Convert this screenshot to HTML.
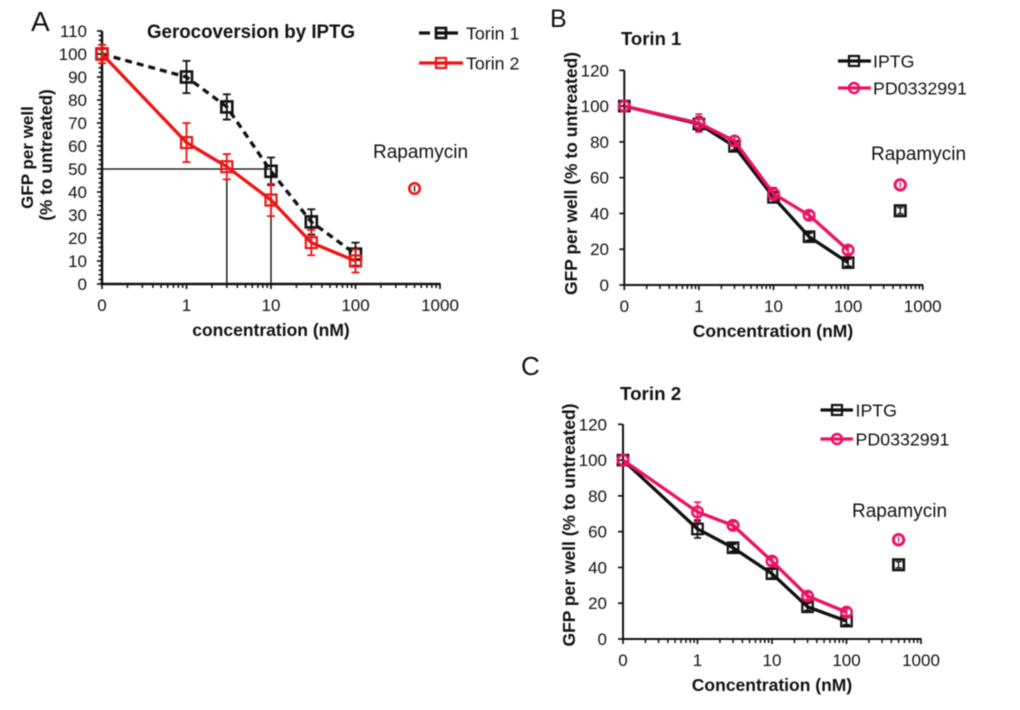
<!DOCTYPE html>
<html lang="en">
<head>
<meta charset="utf-8">
<title>Gerocoversion by IPTG</title>
<style>
html,body{margin:0;padding:0;background:#fff;width:1020px;height:710px;overflow:hidden}
svg{display:block;filter:blur(0.45px)}
text{font-family:"Liberation Sans",sans-serif;fill:#111}
.b{font-weight:bold}
</style>
</head>
<body>
<svg id="fig" xmlns="http://www.w3.org/2000/svg" width="1020" height="710" viewBox="0 0 1020 710">
<rect width="1020" height="710" fill="#fff"/>

<text x="31" y="31" font-size="28">A</text>
<text class="b" x="147" y="38" font-size="19" textLength="208" lengthAdjust="spacingAndGlyphs">Gerocoversion by IPTG</text>
<text class="b" transform="translate(33,157.5) rotate(-90)" text-anchor="middle" font-size="17">GFP per well</text>
<text class="b" transform="translate(52,155) rotate(-90)" text-anchor="middle" font-size="17.3">(% to untreated)</text>
<text class="b" x="271" y="336" text-anchor="middle" font-size="17.5">concentration (nM)</text>
<text x="373" y="158" font-size="19">Rapamycin</text>

<text x="550" y="27" font-size="25">B</text>
<text class="b" x="621" y="45" font-size="18.5">Torin 1</text>
<text class="b" transform="translate(577,173.5) rotate(-90)" text-anchor="middle" font-size="17.5" textLength="243" lengthAdjust="spacingAndGlyphs">GFP per well (% to untreated)</text>
<text class="b" x="773" y="337" text-anchor="middle" font-size="17.5">Concentration (nM)</text>
<text x="871" y="160" font-size="19">Rapamycin</text>

<text x="521" y="375" font-size="26">C</text>
<text class="b" x="620" y="400" font-size="18.8">Torin 2</text>
<text class="b" transform="translate(575,525) rotate(-90)" text-anchor="middle" font-size="17.5" textLength="243" lengthAdjust="spacingAndGlyphs">GFP per well (% to untreated)</text>
<text class="b" x="772" y="691" text-anchor="middle" font-size="17.5">Concentration (nM)</text>
<text x="852" y="517" font-size="19">Rapamycin</text>
</svg>

<script>
var concentrations = [0, 1, 3, 10, 30, 100];
var rapamycinConcentration = 500;
var xTickValues = [0.1, 1, 10, 100, 1000];
var xTickLabels = ['0', '1', '10', '100', '1000'];
var yTicksA = [0, 10, 20, 30, 40, 50, 60, 70, 80, 90, 100, 110];
var yTicksBC = [0, 20, 40, 60, 80, 100, 120];

var aTorin1 = [100, 90, 77, 49, 27, 13];
var aTorin1Err = [0, 7, 5.5, 6, 5.5, 5];
var aTorin2 = [100, 61.5, 51, 36.5, 18, 10];
var aTorin2Err = [4, 8.5, 5.5, 7, 5.5, 5];
var aRapamycin = 41.5;
var aGuideY = 50;
var aGuideX = [3, 10];

var bIptg = [100, 90, 77.5, 49, 27, 12.5];
var bIptgErr = [0, 4, 2, 3, 2, 2];
var bPd = [100, 90.5, 80.5, 51, 39, 19.5];
var bPdErr = [0, 5, 2.5, 3.5, 2, 2];
var bRapamycinPd = 56;
var bRapamycinIptg = 41.5;

var cIptg = [100, 61.5, 51, 36.5, 18, 10];
var cIptgErr = [0, 5, 2, 2.5, 2, 2];
var cPd = [100, 71, 63.5, 43.5, 24, 15];
var cPdErr = [0, 5.5, 2, 2, 2, 2];
var cRapamycinPd = 55.5;
var cRapamycinIptg = 41.5;

var svg = document.getElementById('fig');
var NS = 'http://www.w3.org/2000/svg';

function mk(tag, parent, props) {
  var e = document.createElementNS(NS, tag);
  for (var k in props) { e.setAttribute(k, props[k]); }
  parent.appendChild(e);
  return e;
}

function marker(parent, shape, cx, cy, color, size, width) {
  var m;
  if (shape === 'circle') {
    m = mk('circle', parent, {cx: cx, cy: cy, r: size / 2, fill: 'none', stroke: color, 'stroke-width': width});
  } else {
    m = mk('rect', parent, {x: cx - size / 2, y: cy - size / 2, width: size, height: size, fill: 'none', stroke: color, 'stroke-width': width});
  }
  
  
  return m;
}

function errorBar(parent, cx, yTop, yBottom, color, cap, width) {
  var d = 'M' + cx + ' ' + yTop + 'V' + yBottom + 'M' + (cx - cap) + ' ' + yTop + 'H' + (cx + cap) + 'M' + (cx - cap) + ' ' + yBottom + 'H' + (cx + cap);
  var eb = mk('path', parent, {d: d, fill: 'none', stroke: color, 'stroke-width': width});
  
  
}

function drawPanel(p) {
  function xs(v) {
    var c = v <= 0 ? 0.1 : v;
    return p.x0 + (Math.log10(c) + 1) * p.decade;
  }
  function ys(v) {
    return p.y0 - v * p.ppu;
  }
  var g = mk('g', svg, {});
  
  

  /* guide lines */
  if (p.guideX) {
    var gx = p.guideX[p.guideX.length - 1];
    var hl = mk('line', g, {x1: xs(0), x2: xs(gx), y1: ys(p.guideY), y2: ys(p.guideY), stroke: '#000', 'stroke-width': 1.3});
    
    
    p.guideX.forEach(function (v) {
      var vl = mk('line', g, {x1: xs(v), x2: xs(v), y1: ys(p.guideY), y2: ys(0), stroke: '#000', 'stroke-width': 1.3});
      
      
    });
  }

  /* y axis */
  var ya = mk('line', g, {x1: xs(0), x2: xs(0), y1: ys(p.yTicks[p.yTicks.length - 1]), y2: ys(0) + 1, stroke: '#111', 'stroke-width': p.axisWidth});
  
  
  p.yTicks.forEach(function (v) {
    var t = mk('line', g, {x1: xs(0) - 5, x2: xs(0), y1: ys(v), y2: ys(v), stroke: '#111', 'stroke-width': 1.7});
    
    
    var l = mk('text', g, {x: p.yLabelX, y: ys(v) + 6, 'text-anchor': 'end', 'font-size': 17});
    l.textContent = String(v);
    
    
  });
  if (p.yMinor) {
    var top = p.yTicks[p.yTicks.length - 1];
    for (var mv = 0; mv < top; mv += p.yMinor) {
      if (mv % 10 === 0) continue;
      var mt = mk('line', g, {x1: xs(0) - 3.5, x2: xs(0), y1: ys(mv), y2: ys(mv), stroke: '#111', 'stroke-width': 1.5});
      
      
    }
  }

  /* x axis */
  var xa = mk('line', g, {x1: xs(0) - 1, x2: xs(1000) + 0.5, y1: ys(0), y2: ys(0), stroke: '#111', 'stroke-width': p.axisWidth});
  
  
  xTickValues.forEach(function (v, i) {
    var t = mk('line', g, {x1: xs(v), x2: xs(v), y1: ys(0), y2: ys(0) + 5, stroke: '#111', 'stroke-width': 1.7});
    
    
    var l = mk('text', g, {x: xs(v), y: p.xLabelY, 'text-anchor': 'middle', 'font-size': 17});
    l.textContent = xTickLabels[i];
    
    
    if (i < xTickValues.length - 1) {
      for (var m = 2; m < 10; m++) {
        var mx = mk('line', g, {x1: xs(v * m), x2: xs(v * m), y1: ys(0), y2: ys(0) + 4, stroke: '#111', 'stroke-width': 1.5});
        
        
      }
    }
  });

  /* series */
  p.series.forEach(function (s) {
    var sg = mk('g', g, {});
    
    
    var pts = s.values.map(function (v, i) {
      return xs(concentrations[i]) + ',' + ys(v);
    }).join(' ');
    var line = mk('polyline', sg, {points: pts, fill: 'none', stroke: s.color, 'stroke-width': s.lineWidth, 'stroke-linejoin': 'round'});
    if (s.dash) { line.setAttribute('stroke-dasharray', s.dash); }
    
    
    s.values.forEach(function (v, i) {
      if (s.errors[i] > 0) {
        errorBar(sg, xs(concentrations[i]), ys(v + s.errors[i]), ys(v - s.errors[i]), s.color, p.cap, p.errWidth);
      }
      marker(sg, s.shape, xs(concentrations[i]), ys(v), s.color, s.size, s.markerWidth);
    });
    if (s.rapamycin !== undefined) {
      var rx = xs(rapamycinConcentration);
      var ry = ys(s.rapamycin);
      var rShape = s.rapShape || s.shape;
      errorBar(sg, rx, ry - 3, ry + 3, s.rapErr || s.color, rShape === 'circle' ? 0 : 3, 1.3);
      marker(sg, rShape, rx, ry, s.color, 10.5, s.markerWidth + 0.4);
    }

    /* legend entry */
    var lg = mk('g', g, {});
    
    
    var ll = mk('line', lg, {x1: s.legend.x1, x2: s.legend.x2, y1: s.legend.y, y2: s.legend.y, stroke: s.color, 'stroke-width': s.lineWidth});
    if (s.dash) { ll.setAttribute('stroke-dasharray', '11,6,22,0'); }
    
    
    var lm = marker(lg, s.shape, s.legend.mx, s.legend.y, s.color, 10, s.markerWidth);
    
    var lt = mk('text', lg, {x: s.legend.tx, y: s.legend.y + 6.5, 'font-size': 17.8});
    lt.textContent = s.label;
    
    
  });
}

var BLACK = '#111111';
var RED = '#ee1414';
var PINK = '#ec1164';

drawPanel({
  name: 'panel-a', x0: 102, decade: 84.5, y0: 284, ppu: 2.3, axisWidth: 2.5, cap: 4, errWidth: 1.8,
  yLabelX: 87, xLabelY: 311, yTicks: yTicksA, yMinor: 2,
  guideX: aGuideX, guideY: aGuideY,
  series: [
    {name: 'torin-1', label: 'Torin 1', values: aTorin1, errors: aTorin1Err, color: BLACK, shape: 'square', size: 11, markerWidth: 2.6, lineWidth: 3.3, dash: '7,5',
     legend: {x1: 419, x2: 458, y: 33, mx: 441, tx: 466}},
    {name: 'torin-2', label: 'Torin 2', values: aTorin2, errors: aTorin2Err, color: RED, shape: 'square', size: 11, markerWidth: 2.2, lineWidth: 3.3,
     rapamycin: aRapamycin, rapErr: BLACK, rapShape: 'circle', legend: {x1: 419, x2: 463, y: 63, mx: 441, tx: 466}}
  ]
});

drawPanel({
  name: 'panel-b', x0: 624.3, decade: 74.6, y0: 285, ppu: 1.789, axisWidth: 2, cap: 3.5, errWidth: 1.6,
  yLabelX: 609, xLabelY: 312, yTicks: yTicksBC,
  series: [
    {name: 'b-iptg', label: 'IPTG', values: bIptg, errors: bIptgErr, color: BLACK, shape: 'square', size: 10.5, markerWidth: 2.2, lineWidth: 3.3,
     rapamycin: bRapamycinIptg, legend: {x1: 838, x2: 871, y: 61, mx: 854, tx: 873}},
    {name: 'b-pd0332991', label: 'PD0332991', values: bPd, errors: bPdErr, color: PINK, shape: 'circle', size: 10.5, markerWidth: 2.5, lineWidth: 3.3,
     rapamycin: bRapamycinPd, legend: {x1: 838, x2: 871, y: 88, mx: 854, tx: 873}}
  ]
});

drawPanel({
  name: 'panel-c', x0: 623, decade: 74.5, y0: 639, ppu: 1.789, axisWidth: 2, cap: 3.5, errWidth: 1.6,
  yLabelX: 607, xLabelY: 666, yTicks: yTicksBC,
  series: [
    {name: 'c-iptg', label: 'IPTG', values: cIptg, errors: cIptgErr, color: BLACK, shape: 'square', size: 10.5, markerWidth: 2.2, lineWidth: 3.3,
     rapamycin: cRapamycinIptg, legend: {x1: 820.5, x2: 853, y: 410, mx: 837, tx: 855.5}},
    {name: 'c-pd0332991', label: 'PD0332991', values: cPd, errors: cPdErr, color: PINK, shape: 'circle', size: 10.5, markerWidth: 2.5, lineWidth: 3.3,
     rapamycin: cRapamycinPd, legend: {x1: 820.5, x2: 853, y: 439, mx: 837, tx: 855.5}}
  ]
});
</script>
</body>
</html>
